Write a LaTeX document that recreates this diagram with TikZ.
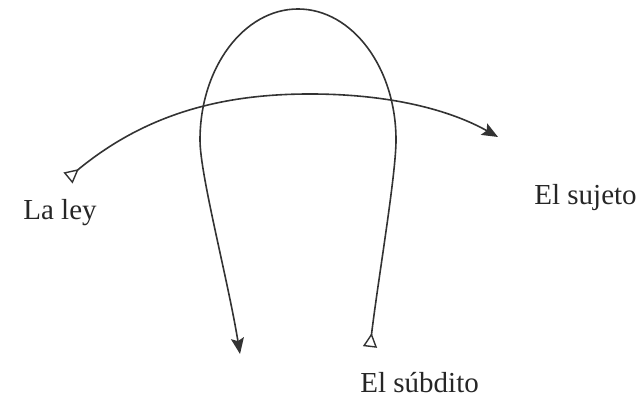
\documentclass[tikz,border=0pt]{standalone}
\usepackage{fontspec}
\setmainfont{Liberation Serif}
\usetikzlibrary{arrows.meta}
\begin{document}
\begin{tikzpicture}[x=0.5pt,y=-0.5pt,
  lbl/.style={anchor=base west,inner sep=0pt,font=\fontsize{14.5pt}{17pt}\selectfont,text=black!85},
  curve/.style={draw=black!80,line width=0.8pt},
  tailtip/.tip={Triangle[open,reversed,length=7pt,width=7pt,line width=0.7pt]},
  headtip/.tip={Stealth[length=8pt,width=6.5pt,inset=1.5pt]}]
\useasboundingbox (0,0) rectangle (641,399);
\node[lbl] (ley) at (23,220) {La ley};
\node[lbl] (sujeto) at (534,205) {El sujeto};
\node[lbl] (subdito) at (360,393) {El súbdito};
\coordinate (hs) at (68,178);
\coordinate (hp) at (310,94);
\coordinate (he) at (498,137);
\coordinate (us) at (370,347);
\coordinate (ur) at (396,140);
\coordinate (ut) at (298,9);
\coordinate (ul) at (200,140);
\coordinate (ue) at (240,354);
\draw[curve,{tailtip}-{headtip}] (hs) .. controls (150,110) and (230,94) .. (hp)
  .. controls (390,94) and (450,110) .. (he);
\draw[curve,{tailtip}-{headtip}] (us) .. controls (378,280) and (396,175) .. (ur)
  .. controls (396,67.7) and (352.1,9) .. (ut)
  .. controls (243.9,9) and (200,67.7) .. (ul)
  .. controls (200,175) and (228,280) .. (ue);
\end{tikzpicture}
\end{document}
